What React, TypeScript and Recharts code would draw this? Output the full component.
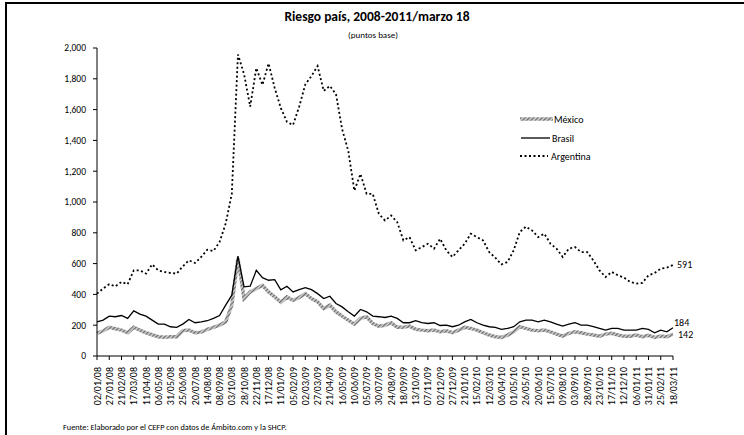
import { LineChart, Line, XAxis, YAxis } from "recharts";

const FONT = "Carlito, Lato, 'Open Sans', sans-serif";

// etiquetas del eje X (cada 25 días)
const etiquetas = [
  "02/01/08", "27/01/08", "21/02/08", "17/03/08", "11/04/08", "06/05/08", "31/05/08", "25/06/08",
  "20/07/08", "14/08/08", "08/09/08", "03/10/08", "28/10/08", "22/11/08", "17/12/08", "11/01/09",
  "05/02/09", "02/03/09", "27/03/09", "21/04/09", "16/05/09", "10/06/09", "05/07/09", "30/07/09",
  "24/08/09", "18/09/09", "13/10/09", "07/11/09", "02/12/09", "27/12/09", "21/01/10", "15/02/10",
  "12/03/10", "06/04/10", "01/05/10", "26/05/10", "20/06/10", "15/07/10", "09/08/10", "03/09/10",
  "28/09/10", "23/10/10", "17/11/10", "12/12/10", "06/01/11", "31/01/11", "25/02/11", "18/03/11",
];

// puntos base, dos lecturas por intervalo de etiqueta
const mexico = [
  147, 164, 186, 177, 168, 151, 186, 168, 151, 138, 125, 121, 125, 125, 164, 168,
  151, 155, 173, 186, 200, 222, 330, 635, 373, 416, 438, 459, 416, 384, 350, 384,
  362, 380, 405, 373, 352, 308, 330, 287, 259, 233, 207, 244, 255, 211, 194, 200,
  216, 186, 186, 194, 173, 168, 164, 168, 157, 164, 151, 168, 186, 179, 168, 151,
  136, 125, 121, 136, 157, 190, 179, 168, 164, 168, 157, 142, 129, 147, 157, 151,
  142, 136, 129, 142, 147, 136, 129, 129, 136, 125, 134, 121, 129, 125, 142,
];

const brasil = [
  222, 233, 259, 255, 263, 244, 293, 272, 259, 233, 207, 207, 190, 186, 207, 237,
  216, 222, 229, 244, 263, 330, 395, 648, 449, 453, 556, 509, 492, 496, 430, 453,
  416, 431, 444, 431, 405, 373, 388, 341, 319, 287, 259, 302, 287, 259, 255, 250,
  259, 244, 216, 216, 229, 216, 211, 216, 198, 200, 190, 200, 222, 237, 216, 201,
  190, 186, 173, 179, 190, 222, 233, 233, 222, 233, 222, 207, 194, 207, 216, 201,
  201, 190, 179, 168, 179, 179, 168, 168, 168, 179, 173, 151, 168, 157, 184,
];

const argentina = [
  405, 438, 466, 453, 481, 466, 556, 556, 535, 595, 556, 546, 539, 535, 582, 621,
  604, 643, 690, 682, 740, 860, 1053, 1958, 1830, 1620, 1870, 1760, 1900, 1740, 1610, 1520,
  1500, 1620, 1764, 1818, 1883, 1721, 1754, 1700, 1473, 1333, 1074, 1182, 1053, 1053, 923, 880,
  912, 869, 751, 772, 686, 707, 729, 697, 761, 686, 643, 686, 729, 794, 772, 751,
  675, 638, 595, 610, 686, 805, 840, 815, 772, 794, 729, 697, 643, 697, 708, 675,
  675, 621, 556, 513, 546, 524, 509, 481, 470, 475, 524, 539, 567, 574, 591,
];

const yTicks = [0, 200, 400, 600, 800, 1000, 1200, 1400, 1600, 1800, 2000];

const data = argentina.map((_, i) => ({
  i,
  mexico: mexico[i],
  brasil: brasil[i],
  argentina: argentina[i],
}));
const xTicks = etiquetas.map((_, k) => k * 2);
const last = data.length - 1;

function XTick({ x, y, payload }: any) {
  const ty = y + 5;
  return (
    <text
      x={x}
      y={ty}
      transform={`rotate(-90, ${x}, ${ty})`}
      textAnchor="end"
      dy="0.35em"
      fontSize={10}
      fontFamily={FONT}
      fill="#000"
    >
      {etiquetas[payload.value / 2]}
    </text>
  );
}

const endLabel = (dx: number, dy: number) => (p: any) => {
  if (p.index !== last) return null;
  return (
    <text x={p.x + dx} y={p.y + dy} dy="0.35em" fontSize={10} fontFamily={FONT} fill="#000">
      {p.value}
    </text>
  );
};

function Leyenda() {
  const rows = [
    { name: "México", y: 9, tx: 39 },
    { name: "Brasil", y: 28, tx: 37 },
    { name: "Argentina", y: 46, tx: 36 },
  ];
  return (
    <svg width={110} height={56} style={{ display: "block" }}>
      <defs>
        <pattern id="mxHatchLeg" patternUnits="userSpaceOnUse" width="3" height="3" patternTransform="rotate(45)">
          <rect width="3" height="3" fill="#d2d2d2" />
          <rect width="1.3" height="3" fill="#6a6a6a" />
        </pattern>
      </defs>
      <line x1={5} x2={38} y1={rows[0].y} y2={rows[0].y} stroke="url(#mxHatchLeg)" strokeWidth={3.5} />
      <line x1={6} x2={35} y1={rows[1].y} y2={rows[1].y} stroke="#000" strokeWidth={1.3} />
      <line x1={5} x2={33} y1={rows[2].y} y2={rows[2].y} stroke="#000" strokeWidth={1.8} strokeDasharray="2 2.5" />
      {rows.map((r) => (
        <text key={r.name} x={r.tx} y={r.y} dy="0.35em" fontSize={10} fontFamily={FONT} fill="#000">
          {r.name}
        </text>
      ))}
    </svg>
  );
}

export default function App() {
  return (
    <div
      style={{
        position: "absolute",
        left: 0,
        top: 0,
        width: 744,
        height: 435,
        overflow: "hidden",
        background: "#fff",
        fontFamily: FONT,
      }}
    >
      <div
        style={{
          position: "absolute",
          left: 5,
          top: 2,
          width: 800,
          height: 500,
          borderTop: "2px solid #000",
          borderLeft: "2px solid #000",
        }}
      />
      <div style={{ position: "absolute", left: 0, width: 754, top: 9, lineHeight: "16px", textAlign: "center", fontSize: 13.5, fontWeight: 700 }}>
        Riesgo país, 2008-2011/marzo 18
      </div>
      <div style={{ position: "absolute", left: 0, width: 746, top: 28, lineHeight: "13px", textAlign: "center", fontSize: 9 }}>
        (puntos base)
      </div>
      <div style={{ position: "absolute", left: 63, top: 421, lineHeight: "12px", fontSize: 8.3, whiteSpace: "nowrap" }}>
        Fuente: Elaborado por el CEFP con datos de Ámbito.com y la SHCP.
      </div>
      <div style={{ position: "absolute", left: 0, top: 0 }}>
        <LineChart width={744} height={435} data={data} margin={{ top: 48, right: 71, left: 37, bottom: 19 }}>
          <defs>
            <pattern id="mxHatch" patternUnits="userSpaceOnUse" width="3" height="3" patternTransform="rotate(45)">
              <rect width="3" height="3" fill="#d2d2d2" />
              <rect width="1.3" height="3" fill="#6a6a6a" />
            </pattern>
          </defs>
          <XAxis
            type="number"
            dataKey="i"
            domain={[0, last]}
            ticks={xTicks}
            interval={0}
            tick={<XTick />}
            tickSize={4}
            height={60}
            axisLine={{ stroke: "#000" }}
            tickLine={{ stroke: "#000" }}
          />
          <YAxis
            domain={[0, 2000]}
            ticks={yTicks}
            interval={0}
            width={60}
            tickSize={4}
            tickMargin={7}
            tickFormatter={(v: number) => v.toLocaleString("en-US")}
            tick={{ fontSize: 9.5, fill: "#000", fontFamily: FONT }}
            axisLine={{ stroke: "#000" }}
            tickLine={{ stroke: "#000" }}
          />
          <Line
            type="linear"
            dataKey="mexico"
            name="México"
            stroke="url(#mxHatch)"
            strokeWidth={3.5}
            dot={false}
            isAnimationActive={false}
            label={endLabel(5, 0)}
          />
          <Line
            type="linear"
            dataKey="brasil"
            name="Brasil"
            stroke="#000"
            strokeWidth={1.3}
            dot={false}
            isAnimationActive={false}
            label={endLabel(1, -5)}
          />
          <Line
            type="linear"
            dataKey="argentina"
            name="Argentina"
            stroke="#000"
            strokeWidth={1.8}
            strokeDasharray="2 2.5"
            dot={false}
            isAnimationActive={false}
            label={endLabel(4, 0)}
          />
        </LineChart>
      </div>
      <div style={{ position: "absolute", left: 515, top: 110 }}>
        <Leyenda />
      </div>
    </div>
  );
}
